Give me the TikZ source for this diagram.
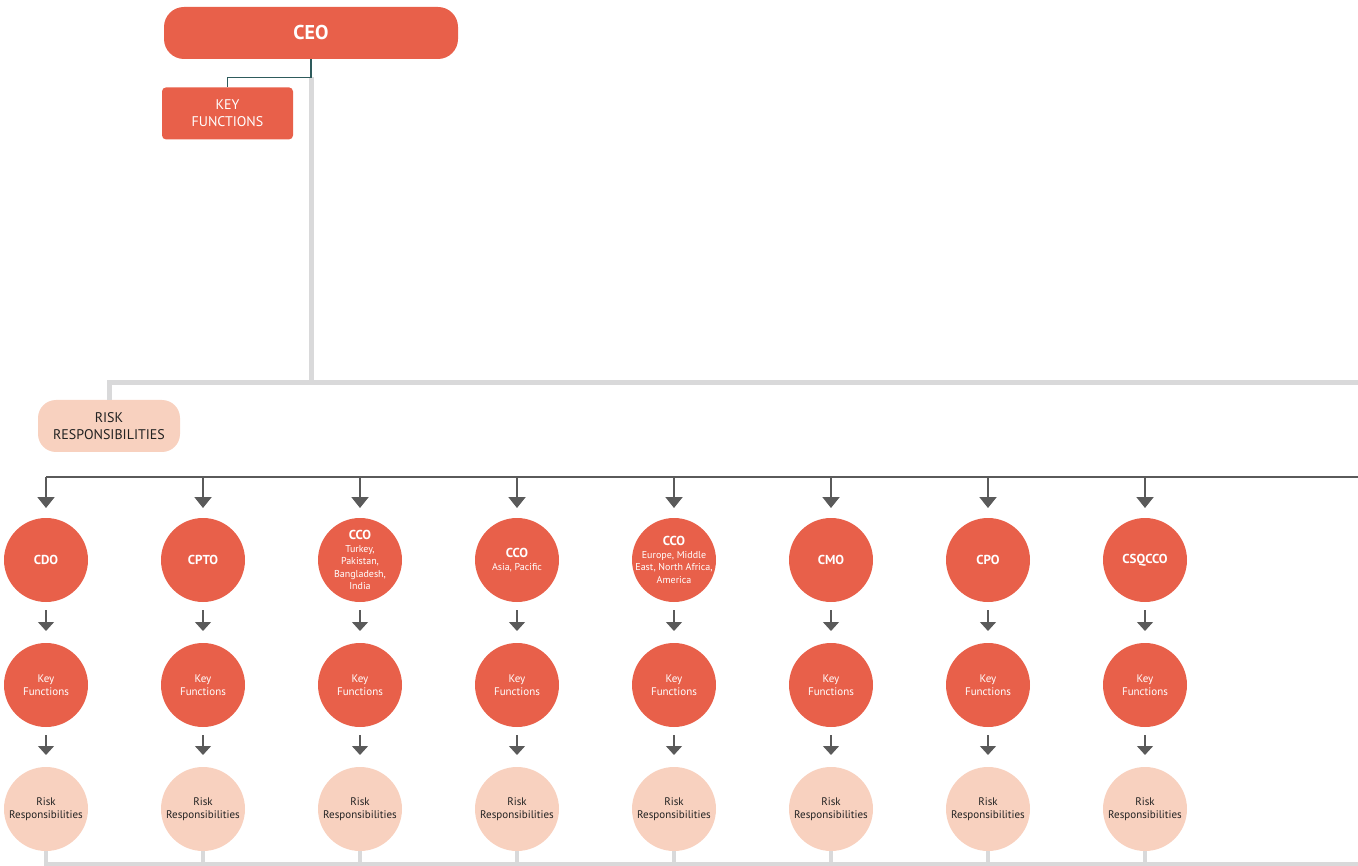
\documentclass[tikz,border=0pt]{standalone}
\usepackage{fontspec}
\setmainfont{PT Sans}
\usetikzlibrary{arrows.meta,positioning,calc}
\definecolor{brand}{HTML}{E8604A}
\definecolor{peach}{HTML}{F8D1BF}
\definecolor{trunkgray}{HTML}{D9D9DA}
\definecolor{wiregray}{HTML}{5A5A5A}
\definecolor{tealwire}{HTML}{2E5B5C}
\definecolor{ink}{HTML}{222222}
\newcommand{\fs}[2]{\fontsize{#1}{#2}\selectfont}

\begin{document}
\begin{tikzpicture}[
  x=1pt, y=-1pt,
  head/.style={fill=brand, text=white, rounded corners=20pt, minimum width=294pt, minimum height=52pt, font=\bfseries\fs{20}{24}},
  keybox/.style={fill=brand, text=white, rounded corners=4pt, minimum width=131pt, minimum height=52pt, align=center, font=\fs{14}{17}},
  riskbox/.style={fill=peach, text=ink, rounded corners=18pt, minimum width=142pt, minimum height=52pt, align=center, font=\fs{14}{17}},
  officer/.style={circle, fill=brand, text=white, minimum size=84pt, inner sep=-8pt, outer sep=0pt, align=center, font=\fs{10}{12.5}},
  keyc/.style={circle, fill=brand, text=white, minimum size=84pt, inner sep=-8pt, outer sep=0pt, align=center, font=\fs{11}{13}},
  riskc/.style={circle, fill=peach, text=ink, minimum size=84pt, inner sep=-8pt, outer sep=0pt, align=center, font=\fs{11}{13}},
  trunk/.style={draw=trunkgray, line width=5pt},
  tie/.style={draw=tealwire, line width=1.3pt},
  busline/.style={draw=wiregray, line width=2pt},
  drop/.style={draw=wiregray, line width=2pt, -{Triangle[length=11pt,width=17pt]}, shorten >=10pt},
  feed/.style={draw=wiregray, line width=1.3pt, -{Triangle[length=9pt,width=16pt]}, shorten <=8pt, shorten >=12pt}
]
  \useasboundingbox (0,0) rectangle (1358,866);
  \newcommand{\ttl}[1]{{\bfseries\fs{13}{15}#1}}

  % top of the chart
  \node[head] (ceo) at (311,33) {CEO};
  \node[keybox, below=28pt of ceo.south west, anchor=north west, xshift=-2pt] (keyfn) {KEY\\FUNCTIONS};
  \coordinate (hub) at (311,383);
  \coordinate (rend) at (1358,383);
  \node[riskbox] (riskhead) at (109,426) {RISK\\RESPONSIBILITIES};

  \draw[trunk] ($(ceo.south)+(0,18)$) -- (hub);
  \draw[tie] (ceo.south) -- ++(0,18) -| (keyfn.north);
  \draw[trunk] (riskhead.north) -- (riskhead.north |- hub) -- (rend);

  % officers
  \node[officer] (cdo) at (46,560) {\ttl{CDO}};
  \node[officer, right=73pt of cdo] (cpto) {\ttl{CPTO}};
  \node[officer, right=73pt of cpto] (ccoa) {\ttl{CCO}\\Turkey,\\Pakistan,\\Bangladesh,\\India};
  \node[officer, right=73pt of ccoa] (ccob) {\ttl{CCO}\\Asia, Pacific};
  \node[officer, right=73pt of ccob] (ccoc) {\ttl{CCO}\\Europe, Middle\\East, North Africa,\\America};
  \node[officer, right=73pt of ccoc] (cmo) {\ttl{CMO}};
  \node[officer, right=73pt of cmo] (cpo) {\ttl{CPO}};
  \node[officer, right=73pt of cpo] (csq) {\ttl{CSQCCO}};

  \coordinate (bus) at (0,477);
  \coordinate (busend) at (1358,477);
  \draw[busline] (cdo.north |- bus) -- (busend);
  \draw[drop] (cdo.north |- bus) -- (cdo.north);
  \draw[drop] (cpto.north |- bus) -- (cpto.north);
  \draw[drop] (ccoa.north |- bus) -- (ccoa.north);
  \draw[drop] (ccob.north |- bus) -- (ccob.north);
  \draw[drop] (ccoc.north |- bus) -- (ccoc.north);
  \draw[drop] (cmo.north |- bus) -- (cmo.north);
  \draw[drop] (cpo.north |- bus) -- (cpo.north);
  \draw[drop] (csq.north |- bus) -- (csq.north);

  % key functions
  \node[keyc, below=41pt of cdo] (cdokey) {Key\\Functions};
  \node[keyc, below=41pt of cpto] (cptokey) {Key\\Functions};
  \node[keyc, below=41pt of ccoa] (ccoakey) {Key\\Functions};
  \node[keyc, below=41pt of ccob] (ccobkey) {Key\\Functions};
  \node[keyc, below=41pt of ccoc] (ccockey) {Key\\Functions};
  \node[keyc, below=41pt of cmo] (cmokey) {Key\\Functions};
  \node[keyc, below=41pt of cpo] (cpokey) {Key\\Functions};
  \node[keyc, below=41pt of csq] (csqkey) {Key\\Functions};

  \draw[feed] (cdo) -- (cdokey);
  \draw[feed] (cpto) -- (cptokey);
  \draw[feed] (ccoa) -- (ccoakey);
  \draw[feed] (ccob) -- (ccobkey);
  \draw[feed] (ccoc) -- (ccockey);
  \draw[feed] (cmo) -- (cmokey);
  \draw[feed] (cpo) -- (cpokey);
  \draw[feed] (csq) -- (csqkey);

  % risk responsibilities
  \node[riskc, below=40pt of cdokey] (cdorisk) {Risk\\Responsibilities};
  \node[riskc, below=40pt of cptokey] (cptorisk) {Risk\\Responsibilities};
  \node[riskc, below=40pt of ccoakey] (ccoarisk) {Risk\\Responsibilities};
  \node[riskc, below=40pt of ccobkey] (ccobrisk) {Risk\\Responsibilities};
  \node[riskc, below=40pt of ccockey] (ccocrisk) {Risk\\Responsibilities};
  \node[riskc, below=40pt of cmokey] (cmorisk) {Risk\\Responsibilities};
  \node[riskc, below=40pt of cpokey] (cporisk) {Risk\\Responsibilities};
  \node[riskc, below=40pt of csqkey] (csqrisk) {Risk\\Responsibilities};

  \draw[feed] (cdokey) -- (cdorisk);
  \draw[feed] (cptokey) -- (cptorisk);
  \draw[feed] (ccoakey) -- (ccoarisk);
  \draw[feed] (ccobkey) -- (ccobrisk);
  \draw[feed] (ccockey) -- (ccocrisk);
  \draw[feed] (cmokey) -- (cmorisk);
  \draw[feed] (cpokey) -- (cporisk);
  \draw[feed] (csqkey) -- (csqrisk);

  % bottom rail
  \coordinate (floor) at (1358,864);
  \draw[trunk, line width=4pt] (cdorisk.south) -- (cdorisk.south |- floor) -- (floor);
  \draw[trunk, line width=4pt] (cptorisk.south) -- (cptorisk.south |- floor);
  \draw[trunk, line width=4pt] (ccoarisk.south) -- (ccoarisk.south |- floor);
  \draw[trunk, line width=4pt] (ccobrisk.south) -- (ccobrisk.south |- floor);
  \draw[trunk, line width=4pt] (ccocrisk.south) -- (ccocrisk.south |- floor);
  \draw[trunk, line width=4pt] (cmorisk.south) -- (cmorisk.south |- floor);
  \draw[trunk, line width=4pt] (cporisk.south) -- (cporisk.south |- floor);
  \draw[trunk, line width=4pt] (csqrisk.south) -- (csqrisk.south |- floor);
\end{tikzpicture}
\end{document}
